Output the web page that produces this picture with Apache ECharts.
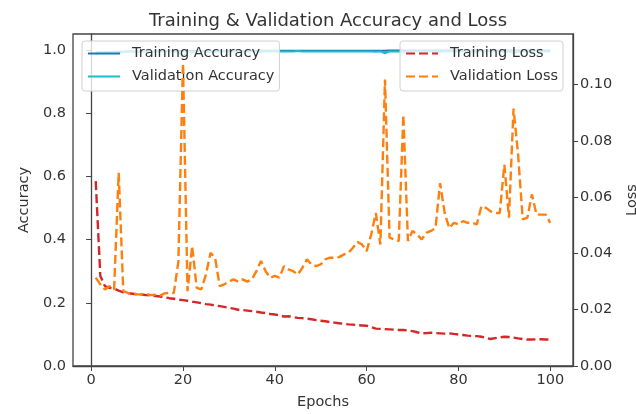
<!DOCTYPE html>
<html>
<head>
<meta charset="utf-8">
<script src="https://cdn.jsdelivr.net/npm/echarts@6/dist/echarts.min.js"></script>
<style>html,body{margin:0;padding:0;background:#fff;}#c{width:636px;height:414px;}</style>
</head>
<body>
<div id="c"></div>
<script>
const epochs = Array.from({length: 100}, (_, i) => i + 1);
const xTicks = [0, 20, 40, 60, 80, 100];
const accTicks = [0, 0.2, 0.4, 0.6, 0.8, 1.0];
const lossTicks = [0, 0.02, 0.04, 0.06, 0.08, 0.10];

const trainAcc = [
0.985,0.991,0.993,0.993,0.994,0.994,0.994,0.995,0.995,0.995,
0.995,0.995,0.995,0.995,0.996,0.996,0.996,0.996,0.996,0.996,
0.996,0.996,0.996,0.996,0.996,0.996,0.996,0.996,0.996,0.996,
0.996,0.996,0.996,0.997,0.997,0.997,0.997,0.997,0.997,0.997,
0.997,0.997,0.997,0.997,0.997,0.997,0.997,0.997,0.997,0.997,
0.997,0.997,0.997,0.997,0.997,0.997,0.997,0.997,0.997,0.997,
0.997,0.997,0.997,0.997,0.998,0.998,0.998,0.998,0.998,0.998,
0.998,0.998,0.998,0.998,0.998,0.998,0.998,0.998,0.998,0.998,
0.998,0.998,0.998,0.998,0.998,0.998,0.998,0.998,0.998,0.998,
0.998,0.998,0.998,0.998,0.998,0.998,0.998,0.998,0.998,0.998];

const valAcc = [
0.992,0.993,0.994,0.993,0.994,0.988,0.994,0.995,0.995,0.995,
0.995,0.995,0.995,0.995,0.995,0.995,0.995,0.995,0.993,0.978,
0.995,0.992,0.995,0.995,0.994,0.993,0.993,0.995,0.995,0.995,
0.995,0.995,0.995,0.995,0.995,0.995,0.994,0.995,0.995,0.995,
0.995,0.995,0.995,0.995,0.996,0.995,0.995,0.995,0.995,0.995,
0.995,0.995,0.995,0.995,0.995,0.995,0.995,0.995,0.995,0.995,
0.995,0.994,0.995,0.989,0.995,0.995,0.995,0.991,0.995,0.995,
0.995,0.995,0.995,0.995,0.995,0.993,0.995,0.995,0.995,0.995,
0.995,0.995,0.995,0.995,0.995,0.995,0.995,0.995,0.995,0.992,
0.995,0.990,0.992,0.995,0.995,0.994,0.995,0.995,0.995,0.995];

const trainLoss = [
0.0657,0.0320,0.0284,0.0278,0.0275,0.0268,0.0262,0.0259,0.0257,0.0255,
0.0254,0.0252,0.0251,0.0249,0.0247,0.0244,0.0241,0.0239,0.0236,0.0234,
0.0232,0.0229,0.0226,0.0223,0.0220,0.0218,0.0215,0.0213,0.0210,0.0207,
0.0204,0.0200,0.0199,0.0197,0.0195,0.0193,0.0190,0.0188,0.0185,0.0183,
0.0180,0.0176,0.0177,0.0174,0.0171,0.0170,0.0168,0.0166,0.0163,0.0161,
0.0159,0.0156,0.0154,0.0152,0.0150,0.0148,0.0147,0.0145,0.0144,0.0143,
0.0138,0.0133,0.0132,0.0131,0.0130,0.0129,0.0128,0.0128,0.0126,0.0124,
0.0120,0.0116,0.0117,0.0118,0.0117,0.0116,0.0115,0.0116,0.0114,0.0112,
0.0110,0.0108,0.0107,0.0106,0.0104,0.0100,0.0096,0.0099,0.0102,0.0104,
0.0103,0.0101,0.0098,0.0096,0.0094,0.0094,0.0095,0.0095,0.0094,0.0094];

const valLoss = [
0.0314,0.0290,0.0272,0.0284,0.0272,0.0687,0.0266,0.0260,0.0257,0.0255,
0.0254,0.0256,0.0252,0.0253,0.0250,0.0258,0.0260,0.0259,0.0370,0.1077,
0.0266,0.0426,0.0278,0.0272,0.0325,0.0402,0.0385,0.0284,0.0290,0.0300,
0.0308,0.0300,0.0308,0.0300,0.0308,0.0337,0.0373,0.0337,0.0314,0.0320,
0.0314,0.0355,0.0343,0.0337,0.0325,0.0349,0.0379,0.0361,0.0355,0.0361,
0.0379,0.0385,0.0385,0.0387,0.0396,0.0402,0.0420,0.0441,0.0432,0.0408,
0.0467,0.0544,0.0432,0.1018,0.0456,0.0450,0.0444,0.0893,0.0444,0.0480,
0.0467,0.0450,0.0473,0.0480,0.0490,0.0650,0.0544,0.0490,0.0509,0.0503,
0.0515,0.0509,0.0509,0.0503,0.0568,0.0562,0.0550,0.0544,0.0544,0.0716,
0.0527,0.0915,0.0750,0.0521,0.0527,0.0610,0.0538,0.0538,0.0538,0.0509];

const FONT = 'DejaVu Sans';
const TXT = '#333';
const AX = '#444';
const pair = arr => epochs.map((e, i) => [e, arr[i]]);

const chart = echarts.init(document.getElementById('c'), null, {renderer: 'canvas'});
const legendCommon = {
  orient: 'vertical', top: 41, itemWidth: 32, itemHeight: 14, itemGap: 8,
  padding: [5, 5, 7, 5],
  backgroundColor: 'rgba(255,255,255,0.8)', borderColor: '#d0d0d0', borderWidth: 1, borderRadius: 3,
  itemStyle: {opacity: 0},
  textStyle: {fontFamily: FONT, fontSize: 14.5, color: TXT, padding: [0, 0, 0, 7]}
};
chart.setOption({
  animation: false,
  backgroundColor: '#fff',
  title: {
    text: 'Training & Validation Accuracy and Loss', left: 323, top: 7, textAlign: 'center',
    textStyle: {fontFamily: FONT, fontSize: 18, fontWeight: 'normal', color: TXT}
  },
  legend: [
    Object.assign({}, legendCommon, {left: 82, z: 2, data: ['Training Accuracy', 'Validation Accuracy']}),
    Object.assign({}, legendCommon, {left: 400, z: 6, data: ['Training Loss', 'Validation Loss']})
  ],
  grid: {left: 73, right: 63, top: 34, bottom: 48, containLabel: false, outerBoundsMode: 'none',
         show: true, borderColor: AX, borderWidth: 1.3, backgroundColor: 'transparent'},
  xAxis: {
    type: 'value', min: -3.95, max: 104.95,
    name: 'Epochs', nameLocation: 'middle', nameGap: 29,
    nameTextStyle: {fontFamily: FONT, fontSize: 14.5, color: TXT},
    axisLine: {show: true, lineStyle: {color: AX, width: 1.3}},
    axisTick: {show: true, length: 5, lineStyle: {color: AX}, customValues: xTicks},
    axisLabel: {fontFamily: FONT, fontSize: 14.5, color: TXT, margin: 7, customValues: xTicks, formatter: v => String(v)},
    splitLine: {show: false}
  },
  yAxis: [
    {
      type: 'value', min: 0, max: 1.05, position: 'left',
      name: 'Accuracy', nameLocation: 'middle', nameGap: 40, nameRotate: 90,
      nameTextStyle: {fontFamily: FONT, fontSize: 14.5, color: TXT},
      axisLine: {show: true, lineStyle: {color: AX, width: 1.3}},
      axisTick: {show: true, length: 5, lineStyle: {color: AX}, customValues: accTicks},
      axisLabel: {fontFamily: FONT, fontSize: 14.5, color: TXT, margin: 7, customValues: accTicks, formatter: v => v.toFixed(1)},
      splitLine: {show: false}
    },
    {
      type: 'value', min: 0, max: 0.118, position: 'right',
      name: 'Loss', nameLocation: 'middle', nameGap: 52, nameRotate: 90,
      nameTextStyle: {fontFamily: FONT, fontSize: 14.5, color: TXT},
      axisLine: {show: true, lineStyle: {color: AX, width: 1.3}},
      axisTick: {show: true, length: 5, lineStyle: {color: AX}, customValues: lossTicks},
      axisLabel: {fontFamily: FONT, fontSize: 14.5, color: TXT, margin: 7, customValues: lossTicks, formatter: v => v.toFixed(2)},
      splitLine: {show: false}
    }
  ],
  series: [
    {name: 'Training Accuracy', type: 'line', z: 1, yAxisIndex: 0, data: pair(trainAcc), symbol: 'none', color: '#1f77b4', lineStyle: {width: 2, color: '#1f77b4'}},
    {name: 'Validation Accuracy', type: 'line', z: 1, yAxisIndex: 0, data: pair(valAcc), symbol: 'none', color: '#17becf', lineStyle: {width: 2, color: '#17becf'}},
    {name: 'Training Loss', type: 'line', z: 3, yAxisIndex: 1, data: pair(trainLoss), symbol: 'none', color: '#d62728', lineStyle: {width: 2.4, color: '#d62728', type: [9, 4]}},
    {name: 'Validation Loss', type: 'line', z: 3, yAxisIndex: 1, data: pair(valLoss), symbol: 'none', color: '#ff7f0e', lineStyle: {width: 2.4, color: '#ff7f0e', type: [9, 4]}}
  ]
});
</script>
</body>
</html>
